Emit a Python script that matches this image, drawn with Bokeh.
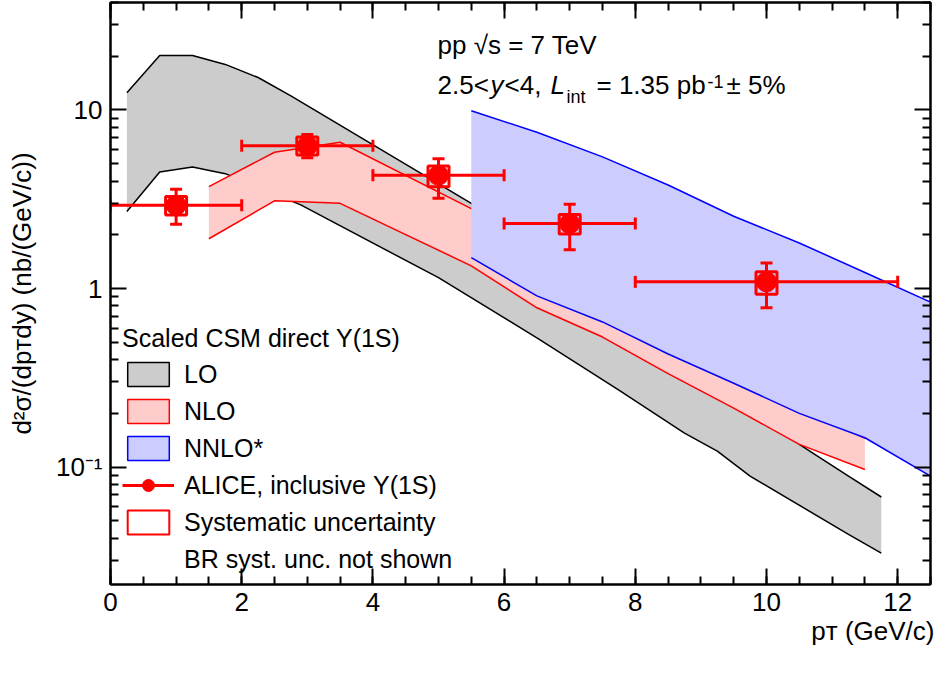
import math
import numpy as np
from bokeh.plotting import figure
from bokeh.models import (ColumnDataSource, FixedTicker, Legend, LegendItem, Label, LinearAxis, LogAxis, Range1d, Title)
from bokeh.embed import file_html
from bokeh.resources import INLINE

# LO band
lo_x_up = [0.25, 0.75, 1.25, 1.75, 2.25, 2.75, 4.95, 5.5, 6.5, 7.75, 8.75, 9.75, 10.5, 11.25, 11.75]
lo_up = [12.5, 20.2, 20.2, 18.0, 15.2, 12.0, 3.96, 3.0, 1.3, 0.75, 0.45, 0.25, 0.134, 0.089, 0.068]
lo_x_lo = [0.25, 0.75, 1.25, 1.75, 2.9, 5.0, 6.5, 7.75, 8.75, 9.25, 9.75, 11.25, 11.75]
lo_lo = [2.7, 4.5, 4.8, 4.4, 2.94, 1.15, 0.53, 0.27, 0.155, 0.123, 0.089, 0.042, 0.033]
# NLO band
nlo_x = [1.5, 2.5, 3.5, 5.5, 6.5, 7.5, 8.5, 9.5, 10.5, 11.5]
nlo_up = [3.72, 5.8, 6.6, 2.8, 1.5, 0.9, 0.55, 0.33, 0.22, 0.145]
nlo_lo = [1.9, 3.1, 3.0, 1.34, 0.78, 0.535, 0.334, 0.214, 0.134, 0.097]
# NNLO* band
nnlo_x = [5.5, 6.5, 7.5, 8.5, 9.5, 10.5, 11.5, 12.5]
nnlo_up = [9.9, 7.5, 5.46, 3.8, 2.54, 1.8, 1.23, 0.84]
nnlo_lo = [1.49, 0.91, 0.65, 0.43, 0.295, 0.2, 0.146, 0.089]
# ALICE data
d_x = [1, 3, 5, 7, 10]
d_xlo = [0, 2, 4, 6, 8]
d_xhi = [2, 4, 6, 8, 12]
d_y = [2.93, 6.3, 4.31, 2.31, 1.09]
d_stat_hi = [3.6, 7.3, 5.34, 2.97, 1.39]
d_stat_lo = [2.29, 5.4, 3.2, 1.65, 0.78]
d_sys_hi = [3.28, 7.05, 4.86, 2.6, 1.24]
d_sys_lo = [2.58, 5.6, 3.72, 2.02, 0.93]

y_ticks = [0.1, 1, 10]
y_tick_labels = {0.1: "10\u207b\u00b9", 1: "1", 10: "10"}
x_ticks = [0, 2, 4, 6, 8, 10, 12]

FONT = "Liberation Sans"
p = figure(y_axis_type="log", output_backend="svg", toolbar_location=None,
           x_range=Range1d(0, 12.5), y_range=Range1d(0.022, 40), frame_width=820, frame_height=582,
           min_border_left=110, min_border_right=4, min_border_top=2, min_border_bottom=4)
p.grid.visible = False
p.outline_line_color = "black"
p.outline_line_width = 2

minor_y = [a * 10.0 ** e for e in (-2, -1, 0, 1) for a in range(2, 10) if 0.022 <= a * 10.0 ** e <= 40]
minor_x = [i * 0.5 for i in range(0, 26)]

def style(ax):
    ax.major_tick_in = 16
    ax.major_tick_out = 0
    ax.minor_tick_in = 8
    ax.minor_tick_out = 0
    ax.axis_line_width = 2
    ax.major_tick_line_width = 2
    ax.minor_tick_line_width = 2
    ax.major_label_text_font = FONT
    ax.major_label_text_font_size = "26px"
    ax.major_label_text_color = "black"

p.xaxis.ticker = FixedTicker(ticks=x_ticks, minor_ticks=minor_x)
p.yaxis.ticker = FixedTicker(ticks=y_ticks, minor_ticks=minor_y)
p.yaxis.major_label_overrides = y_tick_labels
style(p.xaxis[0]); style(p.yaxis[0])
p.xaxis.major_label_standoff = 8
p.yaxis.major_label_standoff = 8
p.yaxis.axis_label = "d\u00b2\u03c3/(dp\u1d1bdy) (nb/(GeV/c))"
p.yaxis.axis_label_text_font = FONT
p.yaxis.axis_label_text_font_size = "26px"
p.yaxis.axis_label_text_font_style = "normal"
p.yaxis.axis_label_text_color = "black"
p.yaxis.axis_label_standoff = 16

ra = LogAxis(ticker=FixedTicker(ticks=y_ticks, minor_ticks=minor_y))
style(ra); ra.major_label_text_color = None
p.add_layout(ra, "right")
ta = LinearAxis(ticker=FixedTicker(ticks=x_ticks, minor_ticks=minor_x))
style(ta); ta.major_label_text_color = None
p.add_layout(ta, "above")

p.add_layout(Title(text="p\u1d1b (GeV/c)", align="right", text_font=FONT, text_font_size="26px",
                   text_font_style="normal", text_color="black", standoff=0, offset=-4), "below")

# LO band
lo_x_all = sorted(set(lo_x_up) | set(lo_x_lo))
p.varea(x=lo_x_all, y1=10 ** np.interp(lo_x_all, lo_x_lo, np.log10(lo_lo)),
        y2=10 ** np.interp(lo_x_all, lo_x_up, np.log10(lo_up)), fill_color="#cccccc")
p.line(lo_x_up, lo_up, color="black", line_width=1.5)
p.line(lo_x_lo, lo_lo, color="black", line_width=1.5)
# NLO band
p.varea(x=nlo_x, y1=nlo_lo, y2=nlo_up, fill_color="#ffcccc")
p.line(nlo_x, nlo_up, color="red", line_width=1.5)
p.line(nlo_x, nlo_lo, color="red", line_width=1.5)
# NNLO band
p.varea(x=nnlo_x, y1=nnlo_lo, y2=nnlo_up, fill_color="#ccccff")
p.line(nnlo_x, nnlo_up, color="blue", line_width=1.5)
p.line(nnlo_x, nnlo_lo, color="blue", line_width=1.5)

# data
src = ColumnDataSource(dict(x=d_x, xlo=d_xlo, xhi=d_xhi, y=d_y, shi=d_stat_hi, slo=d_stat_lo,
                            yhi=d_sys_hi, ylo=d_sys_lo))
p.segment(x0="xlo", x1="xhi", y0="y", y1="y", source=src, color="red", line_width=3)
p.segment(x0="x", x1="x", y0="slo", y1="shi", source=src, color="red", line_width=3)
for col in ("shi", "slo"):
    p.scatter(x="x", y=col, source=src, marker="dash", size=12, line_color="red", line_width=3)
for col in ("xlo", "xhi"):
    p.scatter(x=col, y="y", source=src, marker="dash", angle=np.pi / 2, size=12, line_color="red", line_width=3)
p.quad(left=[x - 0.16 for x in d_x], right=[x + 0.16 for x in d_x], bottom=d_sys_lo, top=d_sys_hi,
       fill_color=None, line_color="red", line_width=3)
p.scatter(x="x", y="y", source=src, size=20, color="red")

# legend dummies (placed off-frame)
off = dict(left=[-6], right=[-5], top=[2], bottom=[1])
r_lo = p.quad(source=ColumnDataSource(off), left="left", right="right", top="top", bottom="bottom",
              fill_color="#cccccc", line_color="black", line_width=1.5)
r_nlo = p.quad(source=ColumnDataSource(off), left="left", right="right", top="top", bottom="bottom",
               fill_color="#ffcccc", line_color="red", line_width=1.5)
r_nnlo = p.quad(source=ColumnDataSource(off), left="left", right="right", top="top", bottom="bottom",
                fill_color="#ccccff", line_color="blue", line_width=1.5)
r_al = p.line([-6, -5], [1, 1], color="red", line_width=3)
r_alc = p.scatter([-6], [1], color="red", size=20)
r_sys = p.quad(source=ColumnDataSource(off), left="left", right="right", top="top", bottom="bottom",
               fill_color=None, line_color="red", line_width=2)
r_br = p.line([-6, -5], [1, 1], line_alpha=0)
leg = Legend(items=[LegendItem(label="LO", renderers=[r_lo]),
                    LegendItem(label="NLO", renderers=[r_nlo]),
                    LegendItem(label="NNLO*", renderers=[r_nnlo]),
                    LegendItem(label="ALICE, inclusive \u03a5(1S)", renderers=[r_al, r_alc]),
                    LegendItem(label="Systematic uncertainty", renderers=[r_sys]),
                    LegendItem(label="BR syst. unc. not shown", renderers=[r_br])],
             location=(6, 4), title="Scaled CSM direct \u03a5(1S)",
             label_text_font=FONT, label_text_font_size="25px", title_text_font=FONT,
             label_text_color="black", title_text_color="black",
             title_text_font_size="25px", title_text_font_style="normal", background_fill_alpha=0,
             border_line_alpha=0, glyph_width=52, glyph_height=30, spacing=7, label_standoff=10,
             padding=6, margin=0, label_height=30, title_standoff=6)
p.add_layout(leg, "center")

def lab(x, y, t, size="26px", style="normal"):
    p.add_layout(Label(x=x, y=y, x_units="screen", y_units="screen", text=t, text_font=FONT,
                       text_font_size=size, text_font_style=style, text_color="black"))

H = 582
lab(327, H - 57, "pp  \u221as = 7 TeV")
lab(327, H - 97, "2.5<")
lab(380, H - 97, "y", style="italic")
lab(394, H - 97, "<4, ")
lab(440, H - 97, "L", style="italic")
lab(456, H - 104, "int", size="18px")
lab(486, H - 97, " = 1.35 pb")
lab(597, H - 85, "-1", size="18px")
lab(616, H - 97, " \u00b1 5%")

open("out.html", "w").write(file_html(p, INLINE))
